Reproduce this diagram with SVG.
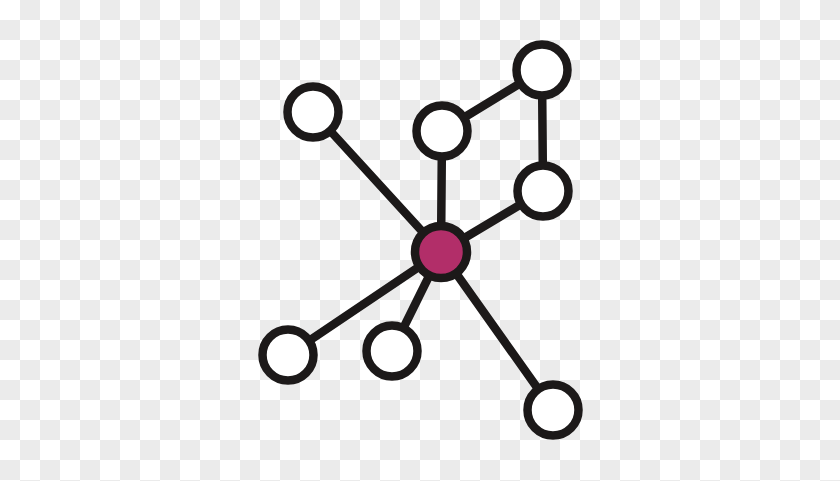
<svg xmlns="http://www.w3.org/2000/svg" width="840" height="481" viewBox="0 0 840 481">
<defs>
<pattern id="checker" width="40" height="40" patternUnits="userSpaceOnUse">
<rect width="40" height="40" fill="#ffffff"/>
<rect x="20" y="0" width="20" height="20" fill="#ebebeb"/>
<rect x="0" y="20" width="20" height="20" fill="#ebebeb"/>
</pattern>
<style>
.edge{stroke:#1c1919;stroke-width:8.5;stroke-linecap:round}
.node{fill:#ffffff;stroke:#1c1919;stroke-width:8.5}
.hub{fill:#b22e69;stroke:#1c1919;stroke-width:8.5}
</style>
</defs>
<rect width="840" height="481" fill="url(#checker)"/>
<g id="connectors">
<line class="edge" x1="441" y1="252" x2="313" y2="112"/>
<line class="edge" x1="441" y1="252" x2="442" y2="131"/>
<line class="edge" x1="441" y1="252" x2="543" y2="191"/>
<line class="edge" x1="441" y1="252" x2="288" y2="355"/>
<line class="edge" x1="441" y1="252" x2="392" y2="351"/>
<line class="edge" x1="441" y1="252" x2="553" y2="410"/>
<line class="edge" x1="442" y1="131" x2="542" y2="70"/>
<line class="edge" x1="542" y1="70" x2="543" y2="191"/>
</g>
<g id="n-topleft"><circle class="node" cx="313" cy="112" r="25.5"/></g>
<g id="n-topmid"><circle class="node" cx="442" cy="131" r="25.5"/></g>
<g id="n-topright"><circle class="node" cx="542" cy="70" r="25.5"/></g>
<g id="n-right"><circle class="node" cx="543" cy="191" r="25.5"/></g>
<g id="n-botleft"><circle class="node" cx="288" cy="355" r="25.5"/></g>
<g id="n-botmid"><circle class="node" cx="392" cy="351" r="25.5"/></g>
<g id="n-botright"><circle class="node" cx="553" cy="410" r="25.5"/></g>
<g id="n-hub"><circle class="hub" cx="441" cy="252" r="26"/></g>
</svg>
